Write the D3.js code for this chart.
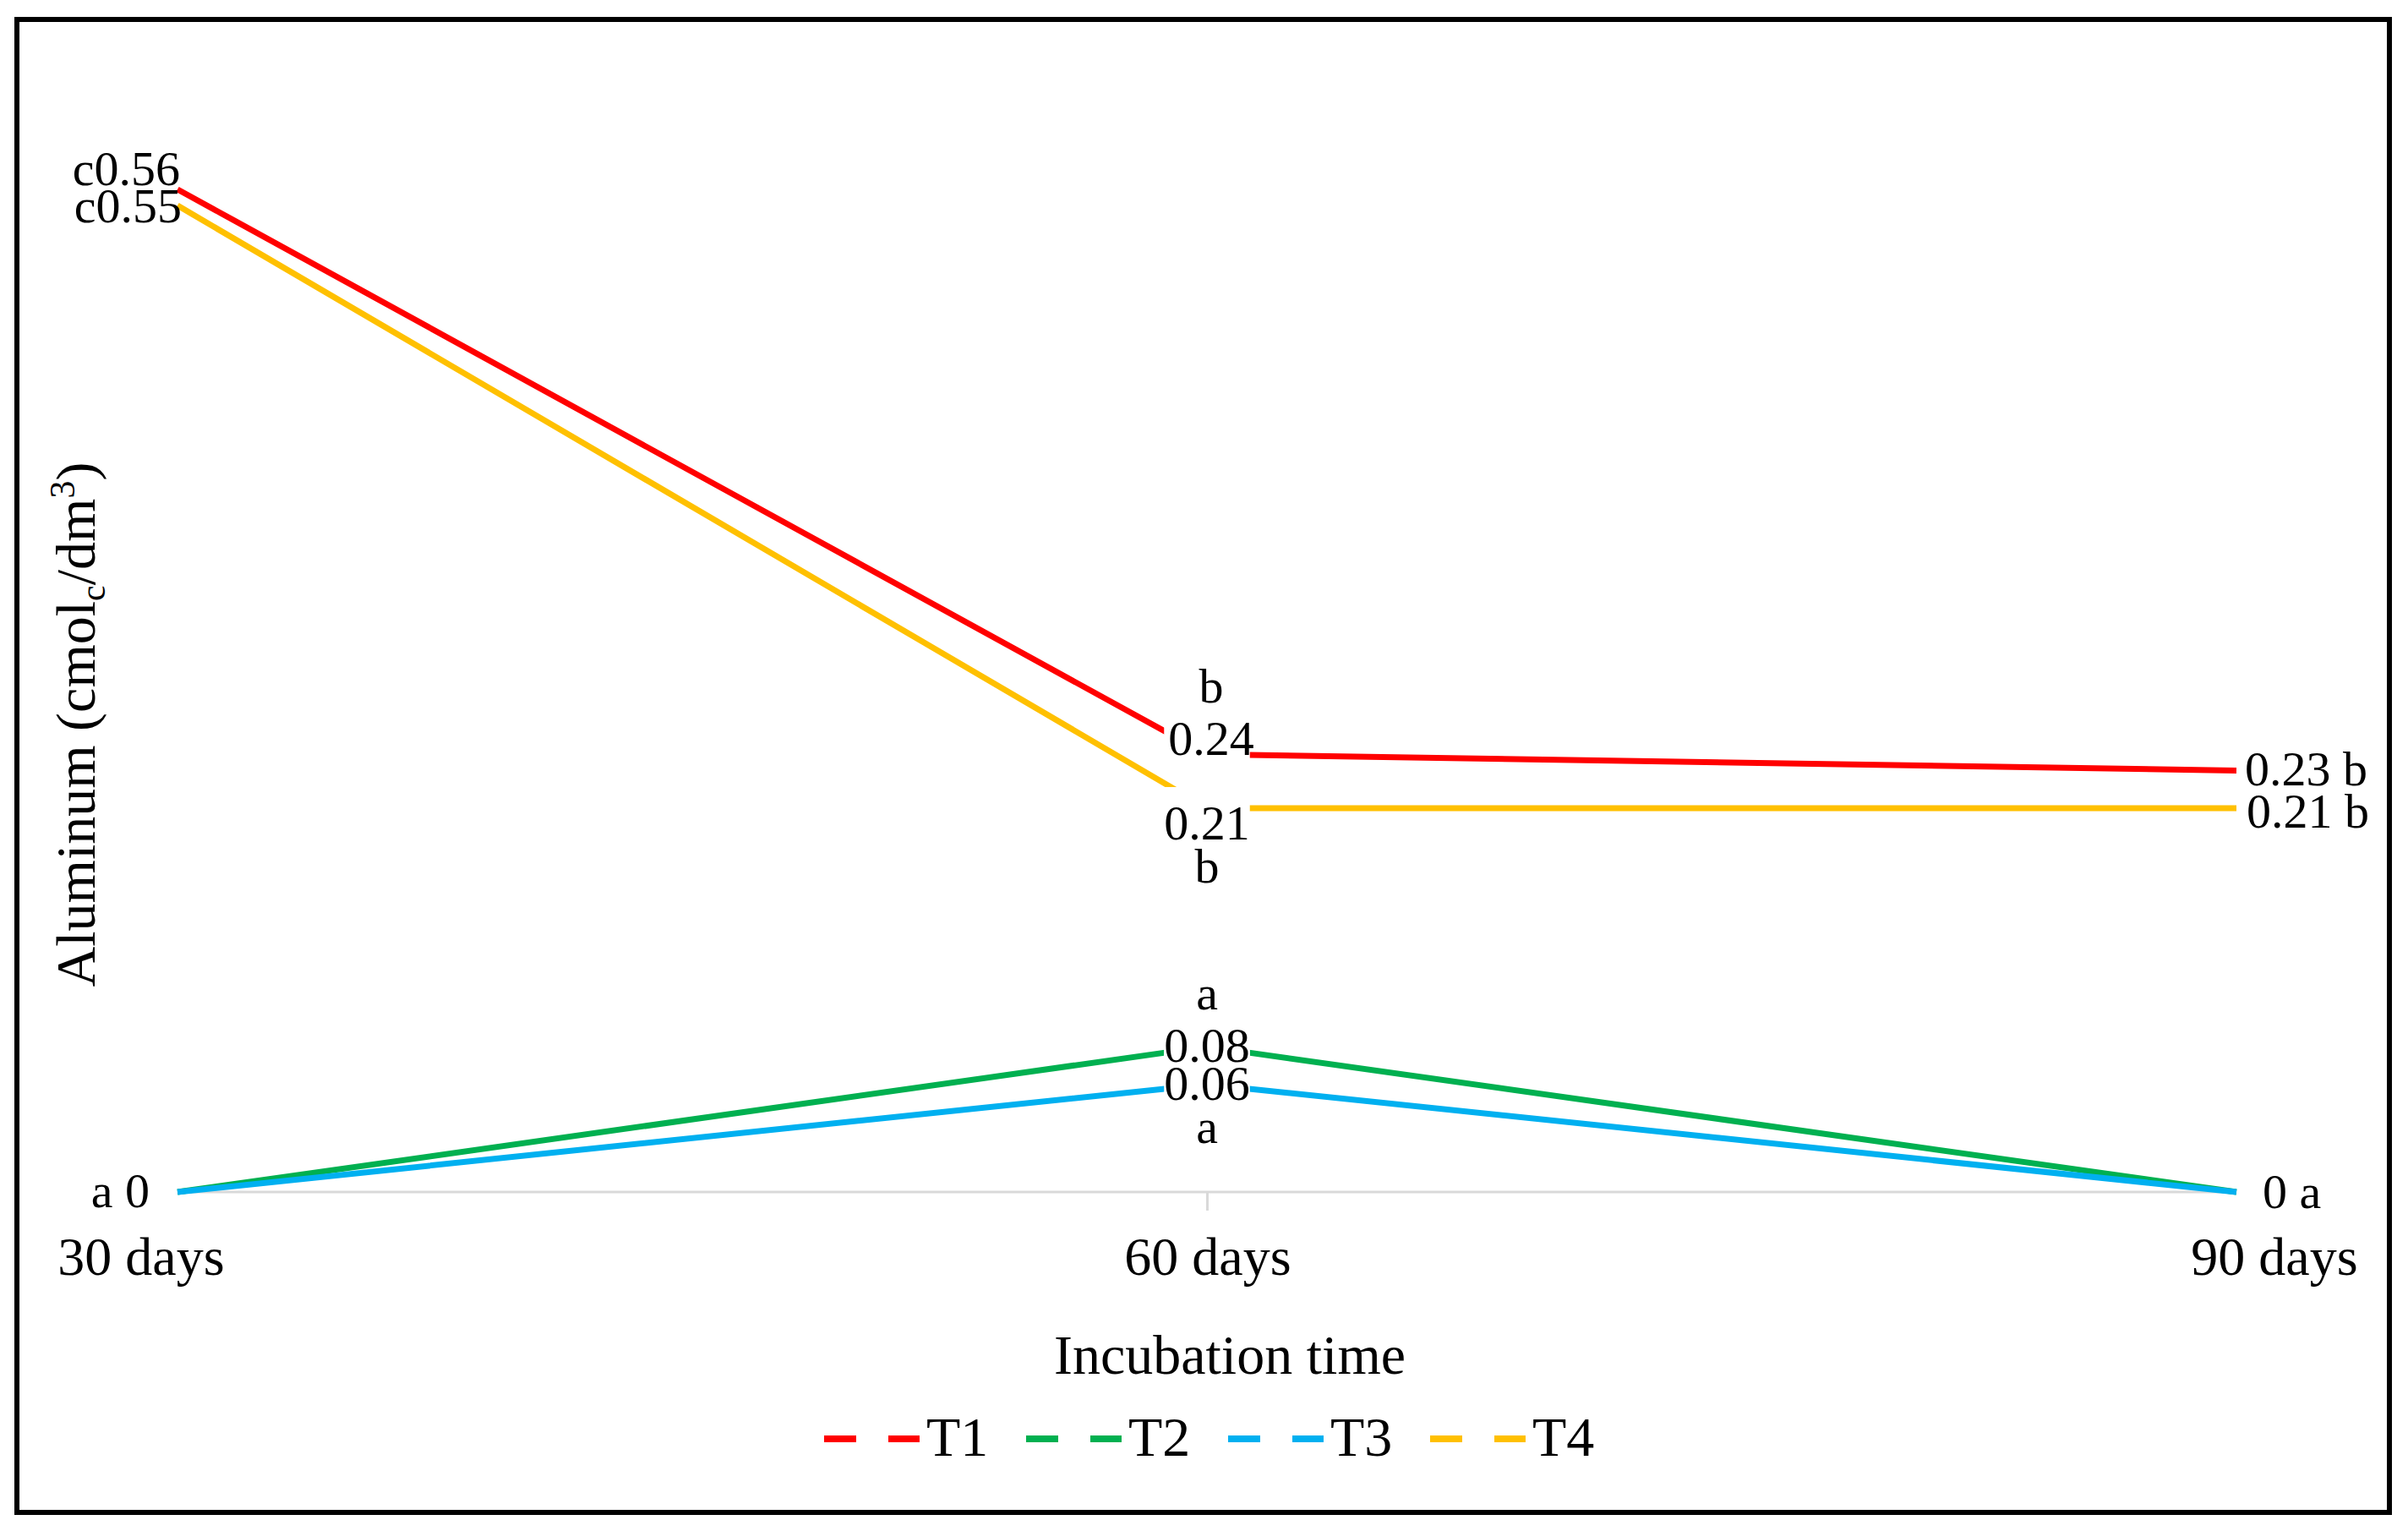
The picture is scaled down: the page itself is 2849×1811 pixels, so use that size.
<!DOCTYPE html>
<html lang="en">
<head>
    <meta charset="UTF-8">
    <title>Aluminum by incubation time</title>
    <script src="https://cdn.jsdelivr.net/npm/d3@7"></script>
    <style>
        body { margin: 0; background: #fff; }
        text { font-family: "Liberation Serif", "Times New Roman", serif; fill: #000; }
    </style>
</head>
<body>
<svg></svg>
<script>
    var categories = ["30 days", "60 days", "90 days"];
    var seriesNames = ["T1", "T2", "T3", "T4"];
    var t1 = [0.559, 0.244, 0.235];
    var t2 = [0, 0.081, 0];
    var t3 = [0, 0.060, 0];
    var t4 = [0.550, 0.214, 0.214];
    var lettersT1 = ["c", "b", "b"];
    var lettersT2 = ["a", "a", "a"];
    var lettersT3 = ["a", "a", "a"];
    var lettersT4 = ["c", "b", "b"];
    var colors = ["#FF0000", "#00B050", "#00B0F0", "#FFC000"];

    var series = [t1, t2, t3, t4];
    var letters = [lettersT1, lettersT2, lettersT3, lettersT4];

    var width = 2849;
    var height = 1811;
    var svg = d3.select('svg')
                    .attr('width', width)
                    .attr('height', height);

    svg.append("rect")
        .attr("width", width).attr("height", height).attr("fill", "#fff");
    // chart frame
    svg.append("rect")
        .attr("x", 20).attr("y", 23)
        .attr("width", 2807).attr("height", 1766)
        .attr("fill", "none").attr("stroke", "#000").attr("stroke-width", 6);

    var x = d3.scalePoint().domain(categories).range([210, 2646]);
    var xLab = d3.scalePoint().domain(categories).range([167, 2691]);   // category labels sit a bit wider
    var y = d3.scaleLinear().domain([0, 0.6]).range([1410, 137]);

    // category axis: grey baseline + inner tick
    svg.append("line")
        .attr("x1", x(categories[0])).attr("x2", x(categories[categories.length - 1]))
        .attr("y1", y(0)).attr("y2", y(0))
        .attr("stroke", "#d9d9d9").attr("stroke-width", 3);
    var xAxis = d3.axisBottom(x)
        .tickValues(categories.slice(1, -1))
        .tickSize(22)
        .tickFormat("");
    var gx = svg.append("g")
        .attr("transform", "translate(0," + y(0) + ")")
        .call(xAxis);
    gx.select(".domain").remove();
    gx.selectAll(".tick line").attr("stroke", "#d9d9d9").attr("stroke-width", 3);

    svg.selectAll(".catlabel")
        .data(categories)
        .enter()
        .append("text")
        .attr("class", "catlabel")
        .attr("x", function(d){ return xLab(d); })
        .attr("y", 1508)
        .attr("text-anchor", "middle")
        .style("font-size", "64px")
        .text(function(d){ return d; });

    // lines
    var line = d3.line()
        .x(function(d, i){ return x(categories[i]); })
        .y(function(d){ return y(d); });
    svg.selectAll(".series")
        .data(series)
        .enter()
        .append("path")
        .attr("class", "series")
        .attr("d", function(d){ return line(d); })
        .attr("fill", "none")
        .attr("stroke", function(d, i){ return colors[i]; })
        .attr("stroke-width", 7)
        .attr("stroke-linejoin", "round");

    // data labels: value with significance letter
    var fmt = function(v){ return v === 0 ? "0" : d3.format(".2f")(v); };
    var labelLayout = [
        {s: 0, i: 0, pos: "left",  dx: 3,   dy: -5, sep: ""},
        {s: 0, i: 1, pos: "above", dx: 5,   dy: 1},
        {s: 0, i: 2, pos: "right", dx: 10,  dy: 18},
        {s: 1, i: 1, pos: "above", dx: 0,   dy: 18},
        {s: 2, i: 0, pos: "left",  dx: -33, dy: 18, sep: " "},
        {s: 2, i: 1, pos: "below", dx: 0,   dy: 18},
        {s: 2, i: 2, pos: "right", dx: 31,  dy: 19},
        {s: 3, i: 0, pos: "left",  dx: 5,   dy: 20, sep: ""},
        {s: 3, i: 1, pos: "below", dx: 0,   dy: 37},
        {s: 3, i: 2, pos: "right", dx: 12,  dy: 23}
    ];
    var boxLayer = svg.append("g");
    var textLayer = svg.append("g");

    labelLayout.forEach(function(l){
        var v = series[l.s][l.i];
        var px = x(categories[l.i]);
        var py = y(v);
        var val = fmt(v);
        var let_ = letters[l.s][l.i];
        var tx = px + l.dx;
        var ty = py + l.dy;
        if (l.pos === "left") {
            textLayer.append("text")
                .attr("x", tx).attr("y", ty)
                .attr("text-anchor", "end")
                .style("font-size", "58px")
                .text(let_ + l.sep + val);
        } else if (l.pos === "right") {
            textLayer.append("text")
                .attr("x", tx).attr("y", ty)
                .attr("text-anchor", "start")
                .style("font-size", "58px")
                .text(val + " " + let_);
        } else {
            var t = textLayer.append("text")
                .attr("x", tx).attr("y", ty)
                .attr("text-anchor", "middle")
                .style("font-size", "58px")
                .text(val);
            var w = t.node().getComputedTextLength();
            boxLayer.append("rect")
                .attr("x", px - w / 2).attr("y", ty - 62)
                .attr("width", w).attr("height", 76)
                .attr("fill", "#fff");
            textLayer.append("text")
                .attr("x", tx).attr("y", l.pos === "above" ? ty - 62 : ty + 51)
                .attr("text-anchor", "middle")
                .style("font-size", "58px")
                .text(let_);
        }
    });

    // axis titles
    svg.append("text")
        .attr("x", 1455).attr("y", 1625)
        .attr("text-anchor", "middle")
        .style("font-size", "66px")
        .text("Incubation time");

    var yt = svg.append("text")
        .attr("transform", "translate(112,857) rotate(-90)")
        .attr("text-anchor", "middle")
        .style("font-size", "66px");
    yt.append("tspan").text("Aluminum (cmol");
    yt.append("tspan").attr("dy", 12).style("font-size", "42px").text("c");
    yt.append("tspan").attr("dy", -12).text("/dm");
    yt.append("tspan").attr("dy", -24).style("font-size", "42px").text("3");
    yt.append("tspan").attr("dy", 24).text(")");

    // legend
    var legend = svg.selectAll(".legend")
        .data(seriesNames)
        .enter()
        .append("g")
        .attr("class", "legend")
        .attr("transform", function(d, i){ return "translate(" + (975 + i * 239) + ",0)"; });
    legend.append("line")
        .attr("x1", 0).attr("x2", 113)
        .attr("y1", 1702).attr("y2", 1702)
        .attr("stroke", function(d, i){ return colors[i]; })
        .attr("stroke-width", 8)
        .attr("stroke-dasharray", "38,38");
    legend.append("text")
        .attr("x", 121).attr("y", 1722)
        .style("font-size", "66px")
        .text(function(d){ return d; });
</script>
</body>
</html>
